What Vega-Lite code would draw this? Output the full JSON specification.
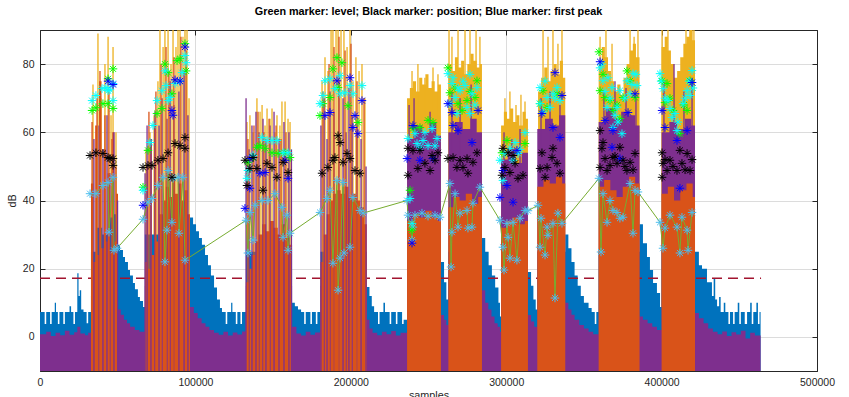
{
"$schema":"https://vega.github.io/schema/vega-lite/v6.json",
"width":777,"height":341,"autosize":"none",
"padding":{"left":40,"top":30,"right":32,"bottom":26},
"background":"white",
"title":{"text":"Green marker: level; Black marker: position; Blue marker: first peak","fontSize":10.8,"fontWeight":"bold","font":"Liberation Sans","color":"#000000","offset":13,"anchor":"middle"},
"config":{"font":"Liberation Sans","view":{"stroke":"#262626","strokeWidth":1},
"axis":{"domainColor":"#262626","tickColor":"#262626","labelColor":"#262626","titleColor":"#262626","labelFontSize":10.5,"titleFontSize":10.8,"titleFontWeight":"normal","gridColor":"#dcdcdc","tickSize":-5,"labelPadding":11,"domainWidth":1,"tickWidth":1,"labelFlush":false}},
"datasets":{
"ba":[{"x":0,"y":7.3},{"x":3000,"y":3.8},{"x":4000,"y":7.3},{"x":6500,"y":3.8},{"x":7500,"y":7.3},{"x":9500,"y":10},{"x":10300,"y":7.3},{"x":11500,"y":3.8},{"x":12500,"y":7.3},{"x":15000,"y":3.8},{"x":16000,"y":7.3},{"x":19000,"y":9},{"x":20000,"y":7.3},{"x":21500,"y":3.8},{"x":22500,"y":7.3},{"x":24000,"y":18.7},{"x":24800,"y":12},{"x":25600,"y":13.7},{"x":26500,"y":8},{"x":28000,"y":7.3},{"x":30000,"y":4},{"x":31000,"y":7.3},
{"x":32800,"y":25},{"x":36000,"y":32},{"x":40000,"y":30},{"x":44000,"y":35},{"x":47000,"y":36},{"x":49000,"y":30},{"x":50200,"y":27},{"x":51500,"y":25.5},{"x":53400,"y":23.4},{"x":54700,"y":22},{"x":56600,"y":19.6},{"x":57900,"y":18},{"x":59800,"y":15.8},{"x":61100,"y":14},{"x":63000,"y":11.7},{"x":64300,"y":10.5},{"x":66300,"y":8.8},
{"x":67500,"y":30},{"x":96500,"y":35},{"x":98500,"y":33},{"x":100400,"y":31},{"x":102300,"y":29},{"x":104200,"y":27},{"x":106200,"y":24},{"x":108100,"y":21},{"x":110000,"y":18},{"x":112000,"y":14.5},{"x":113900,"y":11},{"x":115800,"y":8.5},{"x":117100,"y":7.3},{"x":119500,"y":3.8},{"x":120500,"y":7.3},{"x":123000,"y":10},{"x":123800,"y":7.3},{"x":126000,"y":3.8},{"x":127000,"y":7.3},{"x":129000,"y":3.8},{"x":130000,"y":7.3},
{"x":132500,"y":25},{"x":162200,"y":10},{"x":164000,"y":9},{"x":166000,"y":8},{"x":168000,"y":7.3},{"x":170000,"y":3.8},{"x":171000,"y":7.3},{"x":174000,"y":3.8},{"x":175000,"y":7.3},{"x":177500,"y":3.8},{"x":178500,"y":7.3},
{"x":180500,"y":25},{"x":210300,"y":14.6},{"x":212000,"y":12},{"x":213500,"y":9},{"x":215000,"y":7.3},{"x":217500,"y":3.8},{"x":218500,"y":7.3},{"x":221000,"y":10},{"x":222000,"y":7.3},{"x":225000,"y":3.8},{"x":226000,"y":7.3},{"x":229000,"y":3.8},{"x":230000,"y":7.3},{"x":233000,"y":3.8},{"x":234000,"y":5},
{"x":236200,"y":25},{"x":258000,"y":22},{"x":260000,"y":16},{"x":261500,"y":11},
{"x":262800,"y":25},{"x":284400,"y":29},{"x":286500,"y":25},{"x":288700,"y":21},{"x":290800,"y":18},{"x":292900,"y":14.5},{"x":295000,"y":10},{"x":296000,"y":6},
{"x":296700,"y":25},{"x":314000,"y":19},{"x":316000,"y":15},{"x":317500,"y":11},{"x":319000,"y":8},
{"x":320000,"y":25},{"x":338000,"y":30},{"x":340000,"y":26},{"x":342000,"y":22},{"x":344000,"y":18},{"x":346000,"y":15},{"x":348000,"y":12},{"x":350000,"y":10},{"x":353000,"y":8.5},{"x":355000,"y":7.3},{"x":357000,"y":3.8},{"x":358000,"y":7.3},
{"x":359500,"y":25},{"x":385800,"y":33},{"x":388000,"y":27.5},{"x":390600,"y":23.4},{"x":392500,"y":19.6},{"x":394500,"y":15.8},{"x":397000,"y":12.9},{"x":399000,"y":8.8},
{"x":400000,"y":25},{"x":421500,"y":25},{"x":424000,"y":21},{"x":426000,"y":20},{"x":429200,"y":16},{"x":432400,"y":12},{"x":433500,"y":17},{"x":434500,"y":11},{"x":435700,"y":9},{"x":437000,"y":11.7},{"x":438000,"y":7.3},{"x":440000,"y":10},{"x":441000,"y":7.3},{"x":443000,"y":3.8},{"x":444000,"y":7.3},{"x":446000,"y":3.8},{"x":447000,"y":7.3},{"x":449000,"y":10},{"x":450000,"y":3.8},{"x":451000,"y":7.3},{"x":453500,"y":3.8},{"x":455000,"y":7.3},{"x":457000,"y":10},{"x":458000,"y":3.8},{"x":459000,"y":7.3},{"x":461000,"y":10},{"x":462000,"y":3.8},{"x":463000,"y":7.3},{"x":463700,"y":-10}],
"pa":[{"x":0,"y":0.8},{"x":4000,"y":1.5},{"x":7000,"y":0.3},{"x":10000,"y":1.2},{"x":13000,"y":0.5},{"x":16000,"y":1.8},{"x":19000,"y":0.6},{"x":22000,"y":1.4},{"x":24000,"y":3},{"x":26000,"y":1},{"x":29000,"y":0.5},{"x":31000,"y":1.2},
{"x":32800,"y":12},{"x":50200,"y":8},{"x":52000,"y":6.5},{"x":54000,"y":5},{"x":56000,"y":4},{"x":58000,"y":3},{"x":61000,"y":2},{"x":64000,"y":1.5},
{"x":67500,"y":15},{"x":96500,"y":8.8},{"x":99000,"y":7},{"x":101500,"y":5.5},{"x":104000,"y":4},{"x":106500,"y":3},{"x":109000,"y":2},{"x":112000,"y":1.2},{"x":115000,"y":0.6},{"x":118000,"y":1.5},{"x":121000,"y":0.4},{"x":124000,"y":1.3},{"x":127000,"y":0.7},{"x":130000,"y":1.6},
{"x":132500,"y":15},{"x":162200,"y":3},{"x":165000,"y":1},{"x":168000,"y":0.4},{"x":171000,"y":1.5},{"x":174000,"y":0.6},{"x":177000,"y":1.3},
{"x":180500,"y":15},{"x":210300,"y":5},{"x":212000,"y":2.5},{"x":214000,"y":1.2},{"x":217000,"y":0.5},{"x":220000,"y":1.5},{"x":223000,"y":0.8},{"x":226000,"y":1.7},{"x":229000,"y":0.4},{"x":232000,"y":1.2},
{"x":236200,"y":58},{"x":241000,"y":62},{"x":246000,"y":60},{"x":251000,"y":63},{"x":255000,"y":59},{"x":258000,"y":6.4},{"x":260000,"y":5},{"x":261500,"y":3.5},
{"x":262800,"y":60},{"x":267000,"y":63},{"x":272000,"y":61},{"x":277000,"y":64},{"x":281000,"y":60},{"x":284400,"y":13.7},{"x":286500,"y":10},{"x":288500,"y":8},{"x":290500,"y":6},{"x":292500,"y":4},{"x":294500,"y":3},{"x":296000,"y":1.5},
{"x":296700,"y":52},{"x":301000,"y":55},{"x":306000,"y":51},{"x":310000,"y":54},{"x":314000,"y":6.4},{"x":316000,"y":4.5},{"x":318000,"y":3},
{"x":320000,"y":61},{"x":325000,"y":64},{"x":330000,"y":62},{"x":334000,"y":65},{"x":338000,"y":10},{"x":340000,"y":8},{"x":342000,"y":6.5},{"x":344000,"y":5},{"x":347000,"y":3.5},{"x":350000,"y":2.5},{"x":353000,"y":1.5},{"x":356000,"y":0.8},
{"x":359500,"y":63},{"x":364000,"y":67},{"x":369000,"y":64},{"x":374000,"y":66},{"x":379000,"y":65},{"x":383000,"y":62},{"x":385800,"y":6},{"x":388000,"y":5},{"x":391000,"y":4},{"x":394000,"y":3},{"x":397000,"y":2},
{"x":400000,"y":60},{"x":405000,"y":63},{"x":410000,"y":61},{"x":415000,"y":64},{"x":419000,"y":62},{"x":421500,"y":7},{"x":424000,"y":5.5},{"x":427000,"y":4},{"x":430000,"y":2.5},{"x":433000,"y":1.5},{"x":436000,"y":0.8},{"x":439000,"y":1.6},{"x":442000,"y":0.3},{"x":445000,"y":1.4},{"x":448000,"y":0.7},{"x":451000,"y":1.8},{"x":454000,"y":-0.5},{"x":457000,"y":1.2},{"x":460000,"y":0.4},{"x":463700,"y":-10}],
"oa":[{"x":0,"y":-10},
{"x":32800,"y":45},{"x":34300,"y":22},{"x":35500,"y":62},{"x":36800,"y":24},{"x":38000,"y":75},{"x":39600,"y":26},{"x":41000,"y":55},{"x":42300,"y":28},{"x":43500,"y":48},{"x":45000,"y":25},{"x":46500,"y":60},{"x":47800,"y":28},{"x":49000,"y":42},{"x":50200,"y":-10},
{"x":67500,"y":22},{"x":68500,"y":50},{"x":69500,"y":20},{"x":71000,"y":58},{"x":72000,"y":24},{"x":73500,"y":62},{"x":74500,"y":28},{"x":76000,"y":52},{"x":77000,"y":36},{"x":79000,"y":40},{"x":81000,"y":44},{"x":83000,"y":41},{"x":85000,"y":46},{"x":87000,"y":42},{"x":89000,"y":45},{"x":91000,"y":40},{"x":93000,"y":43},{"x":95000,"y":36},{"x":96500,"y":-10},
{"x":132500,"y":16},{"x":134500,"y":20},{"x":136500,"y":24},{"x":138500,"y":28},{"x":140500,"y":30},{"x":143000,"y":33},{"x":145500,"y":31},{"x":148000,"y":34},{"x":150500,"y":32},{"x":153000,"y":30},{"x":155500,"y":33},{"x":158000,"y":29},{"x":160500,"y":27},{"x":162200,"y":-10},
{"x":180500,"y":22},{"x":182500,"y":30},{"x":184500,"y":36},{"x":186500,"y":40},{"x":188500,"y":42},{"x":191000,"y":43},{"x":193500,"y":42},{"x":196000,"y":44},{"x":198500,"y":41},{"x":201000,"y":42},{"x":203500,"y":40},{"x":206000,"y":38},{"x":208500,"y":33},{"x":210300,"y":-10},
{"x":236200,"y":34},{"x":240000,"y":36},{"x":244000,"y":35},{"x":248000,"y":37},{"x":252000,"y":35},{"x":256000,"y":34},{"x":258000,"y":-10},
{"x":262800,"y":38},{"x":266000,"y":41},{"x":270000,"y":40},{"x":274000,"y":42},{"x":278000,"y":39},{"x":282000,"y":41},{"x":284400,"y":-10},
{"x":296700,"y":32},{"x":300000,"y":34},{"x":304000,"y":35},{"x":308000,"y":33},{"x":312000,"y":34},{"x":314000,"y":-10},
{"x":320000,"y":44},{"x":324000,"y":46},{"x":328000,"y":45},{"x":332000,"y":47},{"x":336000,"y":45},{"x":338000,"y":-10},
{"x":359500,"y":44},{"x":363000,"y":46},{"x":367000,"y":43},{"x":371000,"y":41},{"x":375000,"y":44},{"x":379000,"y":47},{"x":383000,"y":45},{"x":385800,"y":-10},
{"x":400000,"y":42},{"x":404000,"y":44},{"x":408000,"y":40},{"x":412000,"y":43},{"x":416000,"y":45},{"x":420000,"y":41},{"x":421500,"y":-10}],
"ya":[{"x":0,"y":-10},
{"x":236200,"y":70},{"x":238000,"y":73},{"x":240000,"y":75},{"x":242000,"y":72},{"x":244000,"y":76},{"x":246000,"y":74},{"x":248000,"y":77},{"x":250000,"y":73},{"x":252000,"y":75},{"x":254000,"y":72},{"x":256000,"y":74},{"x":258000,"y":-10},
{"x":262800,"y":80},{"x":265000,"y":78},{"x":267000,"y":82},{"x":269000,"y":79},{"x":271000,"y":81},{"x":273000,"y":77},{"x":275000,"y":80},{"x":277000,"y":83},{"x":279000,"y":81},{"x":281000,"y":79},{"x":283000,"y":80},{"x":284400,"y":-10},
{"x":296700,"y":62},{"x":298500,"y":66},{"x":300500,"y":64},{"x":302500,"y":67},{"x":304500,"y":63},{"x":306500,"y":65},{"x":308500,"y":62},{"x":310500,"y":66},{"x":312500,"y":64},{"x":314000,"y":-10},
{"x":320500,"y":72},{"x":322500,"y":76},{"x":324500,"y":79},{"x":326500,"y":75},{"x":328500,"y":78},{"x":330500,"y":80},{"x":332500,"y":77},{"x":334500,"y":81},{"x":336500,"y":76},{"x":338000,"y":-10},
{"x":359500,"y":80},{"x":361500,"y":85},{"x":363500,"y":82},{"x":365500,"y":78},{"x":367500,"y":75},{"x":369500,"y":72},{"x":371500,"y":74},{"x":373500,"y":71},{"x":375500,"y":76},{"x":377500,"y":80},{"x":379500,"y":84},{"x":381500,"y":86},{"x":383500,"y":82},{"x":385800,"y":-10},
{"x":400000,"y":85},{"x":402000,"y":88},{"x":404000,"y":84},{"x":406000,"y":80},{"x":408000,"y":76},{"x":410000,"y":78},{"x":412000,"y":82},{"x":414000,"y":86},{"x":416000,"y":88},{"x":418000,"y":90},{"x":420000,"y":87},{"x":421500,"y":-10}],
"yr":[{"x":34100,"y":74},{"x":37300,"y":89},{"x":39300,"y":70},{"x":41800,"y":80},{"x":43800,"y":88},{"x":45700,"y":65},{"x":47000,"y":85},{"x":48900,"y":60},
{"x":68200,"y":55},{"x":70800,"y":60},{"x":73400,"y":65},{"x":75900,"y":75},{"x":77200,"y":90},{"x":79200,"y":85},{"x":80400,"y":90},{"x":82400,"y":90},{"x":84300,"y":80},{"x":85600,"y":90},{"x":87500,"y":85},{"x":88800,"y":90},{"x":90100,"y":90},{"x":92000,"y":88},{"x":93300,"y":90},{"x":94600,"y":90},{"x":95900,"y":70},
{"x":133200,"y":63},{"x":135100,"y":65},{"x":137100,"y":60},{"x":139600,"y":70},{"x":141600,"y":66},{"x":142900,"y":68},{"x":144800,"y":62},{"x":146100,"y":67},{"x":148000,"y":64},{"x":149300,"y":67},{"x":151200,"y":60},{"x":152500,"y":65},{"x":154400,"y":62},{"x":155700,"y":69},{"x":157700,"y":69},{"x":159600,"y":64},{"x":160900,"y":63},
{"x":181500,"y":75},{"x":183400,"y":82},{"x":185300,"y":78},{"x":187300,"y":90},{"x":188500,"y":90},{"x":190500,"y":90},{"x":191800,"y":90},{"x":193700,"y":90},{"x":195600,"y":90},{"x":197600,"y":85},{"x":199500,"y":90},{"x":201400,"y":75},{"x":203300,"y":82},{"x":205300,"y":78},{"x":207200,"y":80},{"x":209100,"y":70},
{"x":239400,"y":78},{"x":243200,"y":80},{"x":247700,"y":76},{"x":252900,"y":79},{"x":256100,"y":77},
{"x":263200,"y":90},{"x":265100,"y":88},{"x":269000,"y":90},{"x":273500,"y":90},{"x":276700,"y":90},{"x":280600,"y":90},{"x":283100,"y":88},
{"x":299200,"y":70},{"x":302400,"y":72},{"x":306300,"y":68},{"x":309500,"y":71},{"x":312100,"y":69},
{"x":323700,"y":90},{"x":326900,"y":88},{"x":330100,"y":90},{"x":333300,"y":86},{"x":335900,"y":90},
{"x":360400,"y":88},{"x":364200,"y":90},{"x":368100,"y":86},{"x":379700,"y":90},{"x":382300,"y":88},{"x":384800,"y":90},
{"x":400300,"y":90},{"x":404100,"y":90},{"x":415700,"y":90},{"x":418300,"y":90},{"x":420800,"y":90}],
"pr":[{"x":34700,"y":58,"y0":-10},{"x":38000,"y":62,"y0":-10},{"x":40500,"y":55,"y0":-10},{"x":43100,"y":65,"y0":-10},{"x":45000,"y":48,"y0":-10},{"x":47600,"y":60,"y0":-10},{"x":49900,"y":40,"y0":-10},
{"x":67600,"y":48,"y0":-10},{"x":68900,"y":62,"y0":-10},{"x":71400,"y":58,"y0":-10},{"x":74000,"y":66,"y0":-10},{"x":76600,"y":62,"y0":-10},{"x":78500,"y":70,"y0":-10},{"x":81700,"y":64,"y0":-10},{"x":83700,"y":75,"y0":-10},{"x":86200,"y":68,"y0":-10},{"x":89400,"y":72,"y0":-10},{"x":92700,"y":78,"y0":-10},{"x":95200,"y":65,"y0":-10},
{"x":132600,"y":70,"y0":-10},{"x":134500,"y":55,"y0":-10},{"x":136400,"y":62,"y0":-10},{"x":139000,"y":66,"y0":-10},{"x":140900,"y":60,"y0":-10},{"x":143500,"y":64,"y0":-10},{"x":145400,"y":58,"y0":-10},{"x":148000,"y":62,"y0":-10},{"x":150600,"y":66,"y0":-10},{"x":153800,"y":58,"y0":-10},{"x":157000,"y":63,"y0":-10},{"x":160200,"y":60,"y0":-10},{"x":161800,"y":55,"y0":-10},
{"x":180800,"y":62,"y0":-10},{"x":182800,"y":70,"y0":-10},{"x":184700,"y":58,"y0":-10},{"x":186600,"y":72,"y0":-10},{"x":189200,"y":66,"y0":-10},{"x":192400,"y":75,"y0":-10},{"x":195000,"y":70,"y0":-10},{"x":196900,"y":60,"y0":-10},{"x":198800,"y":73,"y0":-10},{"x":200800,"y":65,"y0":-10},{"x":204000,"y":62,"y0":-10},{"x":206600,"y":58,"y0":-10},{"x":209800,"y":50,"y0":-10},
{"x":237500,"y":68,"y0":50},{"x":240700,"y":70,"y0":50},{"x":251000,"y":66,"y0":50},
{"x":265100,"y":72,"y0":50},{"x":270300,"y":70,"y0":50},{"x":277400,"y":74,"y0":50},
{"x":298600,"y":60,"y0":45},{"x":303700,"y":58,"y0":45},{"x":308900,"y":61,"y0":45},
{"x":322400,"y":70,"y0":55},{"x":328200,"y":72,"y0":55},{"x":334600,"y":68,"y0":55},
{"x":362900,"y":72,"y0":55},{"x":370000,"y":75,"y0":55},{"x":377100,"y":73,"y0":55},{"x":383500,"y":70,"y0":55},
{"x":401500,"y":75,"y0":55},{"x":408000,"y":80,"y0":55},{"x":414400,"y":72,"y0":55},{"x":419600,"y":76,"y0":55}],
"or":[{"x":33500,"y":63},{"x":36700,"y":70},{"x":38600,"y":78},{"x":41800,"y":65},{"x":44400,"y":72},{"x":46300,"y":58},{"x":48900,"y":50},
{"x":70100,"y":66},{"x":74600,"y":72},{"x":77900,"y":80},{"x":81100,"y":85},{"x":83000,"y":78},{"x":86200,"y":82},{"x":90700,"y":88},{"x":94000,"y":84},
{"x":133800,"y":58},{"x":137700,"y":62},{"x":140300,"y":66},{"x":144100,"y":60},{"x":147400,"y":64},{"x":151900,"y":62},{"x":155100,"y":58},{"x":158300,"y":60},
{"x":182100,"y":72},{"x":186000,"y":80},{"x":189200,"y":85},{"x":192400,"y":88},{"x":196300,"y":84},{"x":200100,"y":86},{"x":204000,"y":75},{"x":208500,"y":70}],
"mk":[
{"s":"l","x":32200,"y":42},{"s":"l","x":36000,"y":42},{"s":"l","x":40500,"y":44.4},{"s":"l","x":43800,"y":45.3},{"s":"l","x":44400,"y":30.7},{"s":"l","x":47000,"y":46.8},{"s":"l","x":47600,"y":25.4},{"s":"l","x":49600,"y":26},
{"s":"l","x":66300,"y":34.5},{"s":"l","x":69500,"y":39.5},{"s":"l","x":72100,"y":40.6},{"s":"l","x":75900,"y":44.4},{"s":"l","x":79200,"y":46.8},{"s":"l","x":80400,"y":22},{"s":"l","x":81700,"y":31.3},{"s":"l","x":82400,"y":48.8},{"s":"l","x":84900,"y":33.6},{"s":"l","x":85600,"y":46.5},{"s":"l","x":88800,"y":46.8},{"s":"l","x":89400,"y":30.4},{"s":"l","x":92000,"y":46.8},{"s":"l","x":93300,"y":22.5},
{"s":"l","x":132600,"y":34.2},{"s":"l","x":133800,"y":24.6},{"s":"l","x":135100,"y":36.5},{"s":"l","x":137100,"y":28.4},{"s":"l","x":138400,"y":38.6},{"s":"l","x":142900,"y":40},{"s":"l","x":146700,"y":40},{"s":"l","x":151200,"y":42},{"s":"l","x":155700,"y":38},{"s":"l","x":156400,"y":29.2},{"s":"l","x":158900,"y":35.7},{"s":"l","x":159600,"y":25.4},{"s":"l","x":160900,"y":30.4},
{"s":"l","x":180200,"y":36.5},{"s":"l","x":184700,"y":40.6},{"s":"l","x":186600,"y":43},{"s":"l","x":188500,"y":21.6},{"s":"l","x":191100,"y":45.9},{"s":"l","x":191800,"y":13.7},{"s":"l","x":193100,"y":23.1},{"s":"l","x":195000,"y":45.3},{"s":"l","x":195600,"y":24.6},{"s":"l","x":199500,"y":26.3},{"s":"l","x":201400,"y":40.9},{"s":"l","x":205900,"y":37.1},{"s":"l","x":207900,"y":36.3},
{"s":"l","x":236200,"y":40},{"s":"l","x":236800,"y":35.7},{"s":"l","x":239400,"y":28.4},{"s":"l","x":240000,"y":32.2},{"s":"l","x":241300,"y":35.7},{"s":"l","x":245800,"y":36.3},{"s":"l","x":249700,"y":35.4},{"s":"l","x":254200,"y":35.7},{"s":"l","x":257400,"y":35.1},
{"s":"l","x":263800,"y":45},{"s":"l","x":264500,"y":20.5},{"s":"l","x":265100,"y":30.7},{"s":"l","x":267100,"y":42},{"s":"l","x":269000,"y":32.2},{"s":"l","x":270300,"y":36.3},{"s":"l","x":274800,"y":37.1},{"s":"l","x":275400,"y":31.9},{"s":"l","x":278000,"y":32.2},{"s":"l","x":278600,"y":39.2},{"s":"l","x":283100,"y":43.9},
{"s":"l","x":296000,"y":34.2},{"s":"l","x":297900,"y":26.3},{"s":"l","x":298600,"y":19.6},{"s":"l","x":300500,"y":33.3},{"s":"l","x":301200,"y":29.2},{"s":"l","x":302400,"y":23.1},{"s":"l","x":304400,"y":33.6},{"s":"l","x":306900,"y":22.5},{"s":"l","x":308900,"y":34.8},{"s":"l","x":312100,"y":37.1},{"s":"l","x":314000,"y":37},
{"s":"l","x":320500,"y":38.6},{"s":"l","x":321800,"y":26.3},{"s":"l","x":322400,"y":34.8},{"s":"l","x":325000,"y":24},{"s":"l","x":326300,"y":32.2},{"s":"l","x":326900,"y":29.8},{"s":"l","x":330100,"y":33.3},{"s":"l","x":331400,"y":11.4},{"s":"l","x":333300,"y":36.3},{"s":"l","x":335900,"y":33.3},
{"s":"l","x":359700,"y":46.5},{"s":"l","x":361000,"y":24.9},{"s":"l","x":362300,"y":42},{"s":"l","x":364900,"y":33.6},{"s":"l","x":366800,"y":40},{"s":"l","x":368700,"y":37.1},{"s":"l","x":371300,"y":36.5},{"s":"l","x":373200,"y":34.8},{"s":"l","x":375200,"y":35.1},{"s":"l","x":379700,"y":45},{"s":"l","x":381600,"y":30.4},{"s":"l","x":382900,"y":43},{"s":"l","x":384800,"y":42.5},
{"s":"l","x":399000,"y":33.6},{"s":"l","x":400900,"y":26},{"s":"l","x":402200,"y":31.9},{"s":"l","x":405400,"y":35.7},{"s":"l","x":409900,"y":32.2},{"s":"l","x":411800,"y":24.6},{"s":"l","x":413100,"y":35.1},{"s":"l","x":416400,"y":31.3},{"s":"l","x":417000,"y":25.4},{"s":"l","x":419600,"y":36.5},
{"s":"g","x":47000,"y":78.6},{"s":"g","x":43800,"y":75.7},{"s":"g","x":33500,"y":66.4},{"s":"g","x":36000,"y":67.2},{"s":"g","x":40500,"y":68.4},{"s":"g","x":43800,"y":68.4},{"s":"g","x":47000,"y":67},
{"s":"g","x":66300,"y":43.9},{"s":"g","x":69500,"y":54.7},{"s":"g","x":75300,"y":65.5},{"s":"g","x":78500,"y":67},{"s":"g","x":80400,"y":80},{"s":"g","x":82400,"y":77.5},{"s":"g","x":84900,"y":71.3},{"s":"g","x":88200,"y":81},{"s":"g","x":90100,"y":81.6},{"s":"g","x":93300,"y":86},{"s":"g","x":94000,"y":78},
{"s":"g","x":133800,"y":51.2},{"s":"g","x":137100,"y":52.6},{"s":"g","x":139600,"y":55.6},{"s":"g","x":144800,"y":55.3},{"s":"g","x":149300,"y":54},{"s":"g","x":153200,"y":53.8},{"s":"g","x":157700,"y":54},{"s":"g","x":160900,"y":52.6},{"s":"g","x":141600,"y":56.1},
{"s":"g","x":191100,"y":81.9},{"s":"g","x":194300,"y":80.4},{"s":"g","x":188500,"y":78.6},{"s":"g","x":182100,"y":68.4},{"s":"g","x":186600,"y":70.2},{"s":"g","x":180200,"y":64.9},{"s":"g","x":198200,"y":67.8},{"s":"g","x":204600,"y":62.9},{"s":"g","x":191800,"y":73.1},
{"s":"g","x":240000,"y":61.1},{"s":"g","x":249700,"y":63.5},{"s":"g","x":252900,"y":62.9},{"s":"g","x":238100,"y":43},{"s":"g","x":239400,"y":31.3},{"s":"g","x":244500,"y":61.4},
{"s":"g","x":262500,"y":78.9},{"s":"g","x":263800,"y":71.6},{"s":"g","x":269000,"y":68.4},{"s":"g","x":274800,"y":69.3},{"s":"g","x":279900,"y":70.2},{"s":"g","x":281200,"y":75.1},{"s":"g","x":271600,"y":66.4},{"s":"g","x":267100,"y":73},{"s":"g","x":276700,"y":72},
{"s":"g","x":312100,"y":56.7},{"s":"g","x":297300,"y":54},{"s":"g","x":300500,"y":57.6},
{"s":"g","x":321800,"y":68.4},{"s":"g","x":326300,"y":67.3},{"s":"g","x":332700,"y":71.3},{"s":"g","x":323700,"y":72.2},
{"s":"g","x":359700,"y":83.6},{"s":"g","x":360400,"y":72.2},{"s":"g","x":363600,"y":70.2},{"s":"g","x":366800,"y":69.3},{"s":"g","x":373200,"y":64},{"s":"g","x":379700,"y":75.1},{"s":"g","x":382900,"y":70.2},{"s":"g","x":375200,"y":70.2},{"s":"g","x":368700,"y":66.4},{"s":"g","x":362300,"y":77},{"s":"g","x":377700,"y":78},{"s":"g","x":371300,"y":68},
{"s":"g","x":400300,"y":75.1},{"s":"g","x":403500,"y":74.3},{"s":"g","x":407300,"y":66.4},{"s":"g","x":411800,"y":59.6},{"s":"g","x":416400,"y":66.4},{"s":"g","x":418300,"y":75.1},{"s":"g","x":402200,"y":68.7},{"s":"g","x":405400,"y":70},{"s":"g","x":414400,"y":68},
{"s":"c","x":33500,"y":69.3},{"s":"c","x":36000,"y":70.8},{"s":"c","x":39900,"y":72.8},{"s":"c","x":42500,"y":73.1},{"s":"c","x":45000,"y":72.5},{"s":"c","x":47000,"y":74.3},{"s":"c","x":47000,"y":69.3},{"s":"c","x":43800,"y":72.2},
{"s":"c","x":66300,"y":43},{"s":"c","x":70800,"y":57},{"s":"c","x":72700,"y":62},{"s":"c","x":75300,"y":69.3},{"s":"c","x":78500,"y":72.2},{"s":"c","x":81100,"y":73.7},{"s":"c","x":83700,"y":70.2},{"s":"c","x":86900,"y":74.3},{"s":"c","x":90100,"y":75},{"s":"c","x":91400,"y":77.5},{"s":"c","x":93300,"y":82.5},{"s":"c","x":94000,"y":80.4},{"s":"c","x":82400,"y":69.3},{"s":"c","x":80400,"y":78},
{"s":"c","x":133200,"y":46.5},{"s":"c","x":133800,"y":48.8},{"s":"c","x":142900,"y":58.5},{"s":"c","x":146100,"y":57.6},{"s":"c","x":149300,"y":57.6},{"s":"c","x":152500,"y":57.6},{"s":"c","x":156400,"y":54},{"s":"c","x":159600,"y":54},{"s":"c","x":137100,"y":53.2},
{"s":"c","x":180200,"y":68.4},{"s":"c","x":183400,"y":75.1},{"s":"c","x":186600,"y":75.7},{"s":"c","x":189800,"y":72.8},{"s":"c","x":193100,"y":71.3},{"s":"c","x":196300,"y":71.6},{"s":"c","x":199500,"y":73.7},{"s":"c","x":201400,"y":71.3},{"s":"c","x":207200,"y":73.7},{"s":"c","x":182100,"y":70.8},{"s":"c","x":193100,"y":76.6},
{"s":"c","x":236800,"y":58.2},{"s":"c","x":241300,"y":59.6},{"s":"c","x":246500,"y":57.6},{"s":"c","x":252300,"y":61.1},{"s":"c","x":255500,"y":58.2},{"s":"c","x":238100,"y":40.6},{"s":"c","x":239400,"y":33.3},{"s":"c","x":244500,"y":55.6},{"s":"c","x":249700,"y":56.1},{"s":"c","x":242600,"y":56.7},{"s":"c","x":247700,"y":60},{"s":"c","x":254200,"y":56},
{"s":"c","x":262500,"y":77.2},{"s":"c","x":265100,"y":74.3},{"s":"c","x":267100,"y":70.2},{"s":"c","x":270300,"y":72.2},{"s":"c","x":274800,"y":67.3},{"s":"c","x":278000,"y":71.3},{"s":"c","x":281200,"y":73.1},{"s":"c","x":273500,"y":73.7},{"s":"c","x":268300,"y":65.5},{"s":"c","x":276700,"y":65.5},{"s":"c","x":263800,"y":68.4},{"s":"c","x":265800,"y":76},{"s":"c","x":272200,"y":75},{"s":"c","x":276700,"y":77},{"s":"c","x":279900,"y":68},{"s":"c","x":269000,"y":73},
{"s":"c","x":296000,"y":51.8},{"s":"c","x":299200,"y":53.8},{"s":"c","x":302400,"y":55.3},{"s":"c","x":307600,"y":53.8},{"s":"c","x":312100,"y":59.9},{"s":"c","x":304400,"y":51.8},{"s":"c","x":297900,"y":45.9},{"s":"c","x":305700,"y":57},{"s":"c","x":308900,"y":55},
{"s":"c","x":321800,"y":73.1},{"s":"c","x":326300,"y":70.2},{"s":"c","x":330100,"y":71.3},{"s":"c","x":334600,"y":69.3},{"s":"c","x":321800,"y":68.4},{"s":"c","x":332700,"y":73.1},{"s":"c","x":328200,"y":67.3},{"s":"c","x":325000,"y":75},{"s":"c","x":331400,"y":70},{"s":"c","x":323700,"y":66},
{"s":"c","x":360400,"y":78.9},{"s":"c","x":362300,"y":75.1},{"s":"c","x":365500,"y":76},{"s":"c","x":368100,"y":73.1},{"s":"c","x":371300,"y":67.3},{"s":"c","x":374500,"y":59.6},{"s":"c","x":377700,"y":75.1},{"s":"c","x":381600,"y":77.2},{"s":"c","x":384200,"y":73.7},{"s":"c","x":364900,"y":67.3},{"s":"c","x":368700,"y":61.4},{"s":"c","x":379700,"y":71.3},{"s":"c","x":373200,"y":72.2},{"s":"c","x":361600,"y":80},{"s":"c","x":363600,"y":72},{"s":"c","x":366800,"y":70},{"s":"c","x":370000,"y":65},{"s":"c","x":371900,"y":63},{"s":"c","x":376400,"y":70},{"s":"c","x":380900,"y":74},{"s":"c","x":383500,"y":77},
{"s":"c","x":399000,"y":77.2},{"s":"c","x":400900,"y":72.8},{"s":"c","x":404100,"y":69.3},{"s":"c","x":406700,"y":64.3},{"s":"c","x":409900,"y":60.5},{"s":"c","x":413800,"y":68.4},{"s":"c","x":416400,"y":72.2},{"s":"c","x":419600,"y":78.1},{"s":"c","x":418300,"y":70.8},{"s":"c","x":408600,"y":65.5},{"s":"c","x":399700,"y":75},{"s":"c","x":402200,"y":70},{"s":"c","x":405400,"y":67},{"s":"c","x":410500,"y":63},{"s":"c","x":415100,"y":70},{"s":"c","x":417700,"y":75},{"s":"c","x":420200,"y":73},
{"s":"b","x":43800,"y":75},{"s":"b","x":47000,"y":74},
{"s":"b","x":66300,"y":38.6},{"s":"b","x":84900,"y":66.4},{"s":"b","x":85600,"y":65},{"s":"b","x":93300,"y":85},{"s":"b","x":86900,"y":75.4},{"s":"b","x":90100,"y":75},
{"s":"b","x":131900,"y":37.7},{"s":"b","x":135100,"y":43.6},{"s":"b","x":141600,"y":48},{"s":"b","x":144800,"y":48.2},{"s":"b","x":157700,"y":51.8},{"s":"b","x":159600,"y":46.5},{"s":"b","x":135100,"y":52.3},
{"s":"b","x":183400,"y":64.9},{"s":"b","x":186600,"y":65.8},{"s":"b","x":191100,"y":75.1},{"s":"b","x":199500,"y":76},{"s":"b","x":201400,"y":61.4},{"s":"b","x":204600,"y":59.6},{"s":"b","x":207200,"y":69.3},{"s":"b","x":202700,"y":64.9},
{"s":"b","x":236200,"y":52.3},{"s":"b","x":240000,"y":62},{"s":"b","x":239400,"y":27.5},{"s":"b","x":244500,"y":51.8},{"s":"b","x":252900,"y":52.3},
{"s":"b","x":262500,"y":68.4},{"s":"b","x":265100,"y":65.8},{"s":"b","x":269000,"y":60.5},{"s":"b","x":278000,"y":57},{"s":"b","x":281900,"y":66.4},{"s":"b","x":265800,"y":62},
{"s":"b","x":296000,"y":40.9},{"s":"b","x":300500,"y":44.4},{"s":"b","x":304400,"y":39.5},{"s":"b","x":306900,"y":54.7},{"s":"b","x":297900,"y":48.8},
{"s":"b","x":331400,"y":77.5},{"s":"b","x":323000,"y":65.5},{"s":"b","x":330100,"y":61.4},{"s":"b","x":334600,"y":58.5},{"s":"b","x":335900,"y":70.8},
{"s":"b","x":360400,"y":80.7},{"s":"b","x":363600,"y":63.5},{"s":"b","x":368100,"y":55.6},{"s":"b","x":373200,"y":52.3},{"s":"b","x":378400,"y":65.8},{"s":"b","x":382900,"y":71.3},{"s":"b","x":368700,"y":60.5},
{"s":"b","x":400300,"y":66.4},{"s":"b","x":402200,"y":61.4},{"s":"b","x":411800,"y":43.6},{"s":"b","x":409900,"y":57.6},{"s":"b","x":416400,"y":60.5},{"s":"b","x":419600,"y":74.6},
{"s":"k","x":32200,"y":53.2},{"s":"k","x":36000,"y":54},{"s":"k","x":40500,"y":53.8},{"s":"k","x":43800,"y":52.6},{"s":"k","x":47000,"y":52.3},{"s":"k","x":47000,"y":50.3},{"s":"k","x":45000,"y":52.3},
{"s":"k","x":66300,"y":49.7},{"s":"k","x":69500,"y":50.3},{"s":"k","x":72100,"y":50.3},{"s":"k","x":75900,"y":51.8},{"s":"k","x":79200,"y":52.3},{"s":"k","x":82400,"y":54},{"s":"k","x":86900,"y":56.7},{"s":"k","x":90100,"y":56.1},{"s":"k","x":93300,"y":55.3},{"s":"k","x":93300,"y":58.5},{"s":"k","x":84900,"y":46.8},
{"s":"k","x":131900,"y":51.8},{"s":"k","x":135100,"y":49.4},{"s":"k","x":137100,"y":52.6},{"s":"k","x":139600,"y":49.4},{"s":"k","x":146100,"y":50.9},{"s":"k","x":149300,"y":49.7},{"s":"k","x":152500,"y":46.8},{"s":"k","x":156400,"y":51.2},{"s":"k","x":159600,"y":48.2},{"s":"k","x":143500,"y":43},{"s":"k","x":133200,"y":44.4},
{"s":"k","x":181500,"y":48},{"s":"k","x":185300,"y":49.7},{"s":"k","x":188500,"y":51.8},{"s":"k","x":189800,"y":52.6},{"s":"k","x":193100,"y":57},{"s":"k","x":195000,"y":51.2},{"s":"k","x":197600,"y":53.8},{"s":"k","x":199500,"y":52.3},{"s":"k","x":202700,"y":48.8},{"s":"k","x":205900,"y":48},{"s":"k","x":191800,"y":59},
{"s":"k","x":236800,"y":55.3},{"s":"k","x":240000,"y":54.7},{"s":"k","x":236800,"y":47.4},{"s":"k","x":243200,"y":49.4},{"s":"k","x":247700,"y":50.9},{"s":"k","x":251000,"y":48.8},{"s":"k","x":254200,"y":51.8},{"s":"k","x":256100,"y":54},{"s":"k","x":252300,"y":53.2},{"s":"k","x":244500,"y":54.7},
{"s":"k","x":262500,"y":52.3},{"s":"k","x":265800,"y":52.6},{"s":"k","x":270300,"y":51.8},{"s":"k","x":274800,"y":52.3},{"s":"k","x":278600,"y":51.2},{"s":"k","x":281200,"y":54},{"s":"k","x":268300,"y":49.7},{"s":"k","x":272200,"y":49.7},{"s":"k","x":275400,"y":48},
{"s":"k","x":297900,"y":55.3},{"s":"k","x":301200,"y":54},{"s":"k","x":304400,"y":53.2},{"s":"k","x":299200,"y":49.7},{"s":"k","x":302400,"y":48.2},{"s":"k","x":307600,"y":46.5},{"s":"k","x":310800,"y":47.4},{"s":"k","x":297300,"y":47.4},{"s":"k","x":305700,"y":50.9},
{"s":"k","x":323000,"y":54},{"s":"k","x":326300,"y":49.7},{"s":"k","x":329500,"y":52.6},{"s":"k","x":332700,"y":50.9},{"s":"k","x":334600,"y":48},{"s":"k","x":321800,"y":49.4},{"s":"k","x":330100,"y":55.3},{"s":"k","x":325000,"y":46.8},
{"s":"k","x":360400,"y":60.5},{"s":"k","x":361600,"y":55.3},{"s":"k","x":363600,"y":52.3},{"s":"k","x":366800,"y":50.3},{"s":"k","x":371300,"y":50.9},{"s":"k","x":375200,"y":51.8},{"s":"k","x":379700,"y":51.2},{"s":"k","x":382900,"y":53.8},{"s":"k","x":373200,"y":55.6},{"s":"k","x":364900,"y":48.8},{"s":"k","x":377700,"y":48.8},{"s":"k","x":360400,"y":49.7},{"s":"k","x":368700,"y":52.6},{"s":"k","x":362300,"y":57},{"s":"k","x":370000,"y":53},{"s":"k","x":376400,"y":50},{"s":"k","x":381600,"y":49},
{"s":"k","x":400300,"y":54},{"s":"k","x":400900,"y":50.9},{"s":"k","x":403500,"y":48.8},{"s":"k","x":405400,"y":51.8},{"s":"k","x":409900,"y":48.8},{"s":"k","x":413100,"y":50.9},{"s":"k","x":416400,"y":53.8},{"s":"k","x":418300,"y":48.8},{"s":"k","x":400300,"y":46.8},{"s":"k","x":411800,"y":54.7},{"s":"k","x":402200,"y":52},{"s":"k","x":407300,"y":50},{"s":"k","x":415100,"y":49},{"s":"k","x":419600,"y":52}
],
"th":[{"x":0,"x2":464000,"y":17.2}]
},
"layer":[
{"encoding":{
"x":{"field":"x","type":"quantitative","scale":{"domain":[0,500000],"nice":false,"zero":false},"axis":{"title":"samples","values":[0,100000,200000,300000,400000,500000],"format":"d","grid":true,"titlePadding":2}},
"y":{"field":"y","type":"quantitative","scale":{"domain":[-10,90],"nice":false,"zero":false},"axis":{"title":"dB","values":[0,20,40,60,80],"grid":true,"titlePadding":5}}},
"layer":[
{"data":{"name":"ya"},"mark":{"type":"area","interpolate":"step-after","color":"#EDB120","clip":true},"encoding":{"y2":{"datum":-10}}},
{"data":{"name":"yr"},"mark":{"type":"rule","color":"#EDB120","strokeWidth":1.3,"clip":true},"encoding":{"y2":{"datum":-10}}},
{"data":{"name":"ba"},"mark":{"type":"area","interpolate":"step-after","color":"#0072BD","clip":true},"encoding":{"y2":{"datum":-10}}},
{"data":{"name":"pa"},"mark":{"type":"area","interpolate":"step-after","color":"#7E2F8E","clip":true},"encoding":{"y2":{"datum":-10}}},
{"data":{"name":"th"},"mark":{"type":"rule","color":"#A2142F","strokeDash":[10,6],"strokeWidth":1.3},"encoding":{"x2":{"field":"x2"}}},
{"data":{"name":"oa"},"mark":{"type":"area","interpolate":"step-after","color":"#D95319","clip":true},"encoding":{"y2":{"datum":-10}}},
{"data":{"name":"pr"},"mark":{"type":"rule","color":"#7E2F8E","strokeWidth":1.3,"clip":true},"encoding":{"y2":{"field":"y0"}}},
{"data":{"name":"or"},"mark":{"type":"rule","color":"#D95319","strokeWidth":1.3,"clip":true},"encoding":{"y2":{"datum":-10}}},
{"data":{"name":"mk"},"transform":[{"filter":"datum.s == 'l'"}],"mark":{"type":"line","color":"#77AC30","strokeWidth":1,"clip":true},"encoding":{}},
{"data":{"name":"mk"},"mark":{"type":"point","shape":"M-1,0L1,0M0,-1L0,1M-0.7,-0.7L0.7,0.7M-0.7,0.7L0.7,-0.7","filled":false,"size":72,"strokeWidth":1,"opacity":1,"clip":true},
"encoding":{"color":{"field":"s","type":"nominal","scale":{"domain":["g","c","b","k","l"],"range":["#00FF00","#00FFFF","#0000FF","#000000","#4DBEEE"]},"legend":null}}}
]},
{"data":{"name":"th"},"mark":{"type":"rule","opacity":0},
"encoding":{
"x":{"field":"x","type":"quantitative","scale":{"domain":[0,500000],"nice":false,"zero":false},"axis":{"orient":"top","labels":false,"title":null,"grid":false,"values":[0,100000,200000,300000,400000,500000]}},
"x2":{"field":"x2"},
"y":{"field":"y","type":"quantitative","scale":{"domain":[-10,90],"nice":false,"zero":false},"axis":{"orient":"right","labels":false,"title":null,"grid":false,"values":[0,20,40,60,80]}}}}
],
"resolve":{"axis":{"x":"independent","y":"independent"}}
}
